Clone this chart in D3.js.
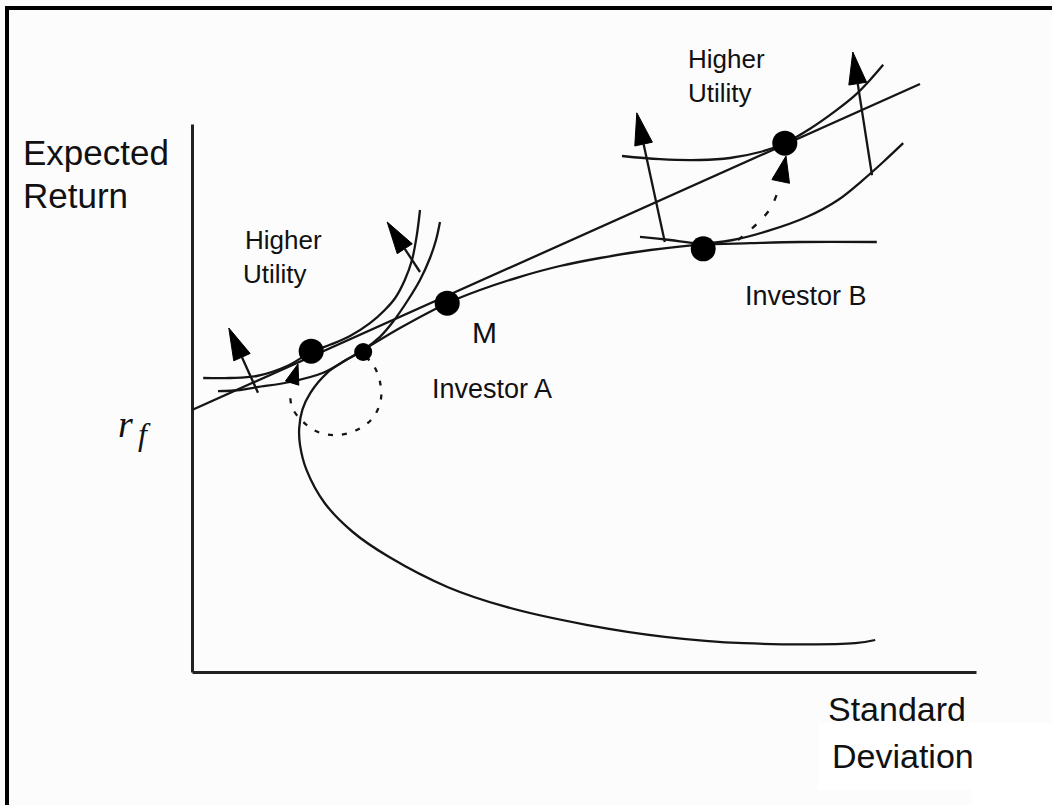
<!DOCTYPE html>
<html>
<head>
<meta charset="utf-8">
<script src="https://cdn.jsdelivr.net/npm/d3@7"></script>
<style>
  html, body { margin: 0; padding: 0; background: #fcfcfc; }
  svg { display: block; }
  text { fill: #111; }
</style>
</head>
<body>
<svg id="chart" width="1052" height="805"></svg>
<script>
// ---- Data (standard deviation, expected return) in arbitrary chart units ----
const riskFree = 32.75;
const cmlEnd = [91, 73.5];

const frontier = [
  [85.4, 4.0], [82.9, 3.6], [69.0, 3.6], [59.1, 4.4], [49.3, 5.9], [39.4, 8.1],
  [32.0, 10.6], [24.6, 14.4], [20.1, 17.5], [16.6, 21.1], [14.3, 25.3], [13.5, 28.4],
  [13.4, 30.5], [13.8, 32.8], [14.8, 34.9], [16.9, 37.4], [19.1, 38.9], [21.4, 40.25],
  [26.0, 43.0], [31.9, 46.1], [36.0, 47.75], [41.0, 49.4], [46.0, 50.75], [51.0, 51.75],
  [57.3, 52.75], [63.5, 53.4], [69.8, 53.6], [76.0, 53.75], [85.6, 53.75]
];

const icALow = [
  [3.25, 35.1], [6.0, 35.25], [8.1, 35.6], [12.25, 36.25], [16.4, 37.4], [19.4, 39.1],
  [21.4, 40.25], [23.5, 41.9], [25.1, 43.75], [27.0, 46.5], [28.5, 49.0], [29.75, 51.75],
  [30.5, 54.0], [31.0, 56.25]
];
const icAHigh = [
  [1.4, 36.75], [4.75, 36.75], [8.1, 37.0], [11.9, 38.25], [14.9, 40.0], [17.25, 40.9],
  [19.75, 42.0], [22.25, 43.6], [24.1, 45.25], [25.4, 46.75], [26.6, 49.0], [27.5, 51.5],
  [28.1, 54.6], [28.5, 57.75]
];
const icBLow = [
  [56.0, 54.4], [59.75, 54.0], [63.5, 53.6], [67.6, 54.0], [71.9, 55.1], [76.9, 56.9],
  [80.75, 59.0], [83.75, 61.4], [86.4, 63.75], [88.9, 66.1]
];
const icBHigh = [
  [53.75, 64.5], [58.5, 64.1], [63.5, 64.0], [67.25, 64.25], [71.0, 65.0], [74.1, 66.1],
  [77.25, 67.9], [80.4, 70.1], [82.9, 72.1], [84.75, 74.0], [86.4, 75.9]
];

// optimal portfolios
const pointNames = ["M", "A_frontier", "A_cml", "B_frontier", "B_cml"];
const pointSD   = [31.9, 21.4, 14.9, 63.9, 74.1];
const pointRet  = [46.1, 40.0, 40.1, 52.9, 66.1];
const pointSize = ["big", "small", "big", "big", "big"];

// "higher utility" arrows: [tail, tip]
const utilityArrows = [
  [[8.25, 34.9], [4.6, 43.0]],
  [[28.5, 50.0], [24.4, 56.25]],
  [[59.1, 53.75], [55.6, 69.9]],
  [[85.0, 62.1], [82.6, 77.5]]
];

// dashed moves from frontier optimum to CML optimum
const moveA = [
  [21.75, 39.4], [22.75, 38.25], [23.5, 36.25], [23.6, 34.0], [22.6, 31.75], [20.6, 30.25],
  [18.1, 29.6], [15.75, 30.0], [13.9, 31.25], [12.5, 33.1], [12.25, 35.25]
];
const moveATip = [13.25, 38.5];
const moveB = [[68.25, 54.0], [70.6, 56.0], [72.4, 58.1], [73.5, 60.9]];
const moveBTip = [74.25, 64.5];

// ---- Scales ----
const svg = d3.select("#chart");
const x = d3.scaleLinear().domain([0, 98]).range([192, 976]);
const y = d3.scaleLinear().domain([0, 68.5]).range([672, 124]);
const ink = "#151515";

// background bits
svg.append("rect").attr("width", 1052).attr("height", 805).attr("fill", "#fcfcfc");
svg.append("rect").attr("x", 818).attr("y", 723).attr("width", 234).attr("height", 67).attr("fill", "#ffffff");
svg.append("rect").attr("x", 972).attr("y", 790).attr("width", 80).attr("height", 15).attr("fill", "#ffffff");

// frame
svg.append("line").attr("x1", 5).attr("x2", 1052).attr("y1", 8).attr("y2", 8)
  .attr("stroke", "#000").attr("stroke-width", 4);
svg.append("line").attr("x1", 7).attr("x2", 7).attr("y1", 6).attr("y2", 805)
  .attr("stroke", "#000").attr("stroke-width", 4);

// axes (no ticks)
svg.append("g").attr("transform", `translate(0,${y(0)})`)
  .call(d3.axisBottom(x).tickValues([]).tickSizeOuter(0));
svg.append("g").attr("transform", `translate(${x(0)},0)`)
  .call(d3.axisLeft(y).tickValues([]).tickSizeOuter(0));
svg.selectAll(".domain").attr("stroke", "#222").attr("stroke-width", 3);

const line = d3.line().x(d => x(d[0])).y(d => y(d[1])).curve(d3.curveCatmullRom.alpha(0.5));
const straight = d3.line().x(d => x(d[0])).y(d => y(d[1]));

function drawCurve(data, gen, dash) {
  const p = svg.append("path").attr("d", gen(data)).attr("fill", "none")
    .attr("stroke", ink).attr("stroke-width", 2.3).attr("stroke-linejoin", "round");
  if (dash) p.attr("stroke-dasharray", dash);
  return p;
}

drawCurve(frontier, line);
drawCurve([[0, riskFree], cmlEnd], straight);
drawCurve(icALow, line);
drawCurve(icAHigh, line);
drawCurve(icBLow, line);
drawCurve(icBHigh, line);

function arrowHead(from, tip, len, half) {
  const fx = x(from[0]), fy = y(from[1]), tx = x(tip[0]), ty = y(tip[1]);
  const dx = tx - fx, dy = ty - fy, L = Math.hypot(dx, dy);
  const ux = dx / L, uy = dy / L;
  const bx = tx - ux * len, by = ty - uy * len;
  const pts = [[tx, ty], [bx - uy * half, by + ux * half], [bx + uy * half, by - ux * half]];
  svg.append("path").attr("d", "M" + pts.map(p => p.join(",")).join("L") + "Z")
    .attr("fill", "#000").attr("stroke", "#000").attr("stroke-width", 1);
  return [bx, by];
}

// higher utility arrows
utilityArrows.forEach(([tail, tip]) => {
  const base = arrowHead(tail, tip, 32, 9);
  svg.append("line").attr("x1", x(tail[0])).attr("y1", y(tail[1]))
    .attr("x2", base[0]).attr("y2", base[1])
    .attr("stroke", ink).attr("stroke-width", 2.3);
});

// dashed moves
drawCurve(moveA, line, "5,9");
arrowHead(moveA[moveA.length - 1], moveATip, 20, 7);
drawCurve(moveB, line, "6,12");
arrowHead(moveB[moveB.length - 1], moveBTip, 26, 9);

// portfolio dots
svg.selectAll("circle.pt").data(pointNames).join("circle").attr("class", "pt")
  .attr("cx", (d, i) => x(pointSD[i])).attr("cy", (d, i) => y(pointRet[i]))
  .attr("r", (d, i) => pointSize[i] === "big" ? 12.5 : 9)
  .attr("fill", "#000");

// ---- Text ----
const sans = "'Liberation Sans', Arial, sans-serif";
function label(txt, px, py, size) {
  return svg.append("text").attr("x", px).attr("y", py)
    .attr("font-family", sans).attr("font-size", size).text(txt);
}
label("Expected", 23, 165, 35);
label("Return", 23, 208, 35);
label("Standard", 828, 721, 34);
label("Deviation", 832, 768, 34);
label("Higher", 245, 249, 26);
label("Utility", 243, 283, 26);
label("Higher", 688, 68, 26);
label("Utility", 688, 102, 26);
label("M", 472, 343, 30);
label("Investor A", 432, 398, 27);
label("Investor B", 745, 305, 27);

const rf = svg.append("text").attr("x", 118).attr("y", 437)
  .attr("font-family", "'Liberation Serif', 'Times New Roman', serif")
  .attr("font-style", "italic").attr("font-size", 38);
rf.append("tspan").text("r");
rf.append("tspan").attr("x", 138).attr("y", 445).attr("font-size", 32).text("f");
</script>
</body>
</html>
